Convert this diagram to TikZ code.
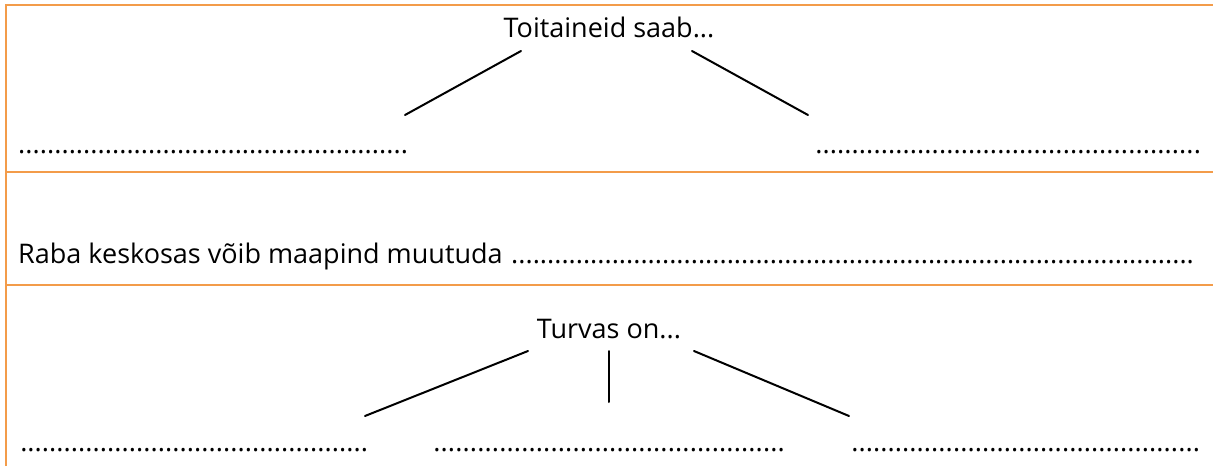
\documentclass[tikz,border=0pt]{standalone}
\usepackage{fontspec}
\setmainfont{Open Sans}
\usepackage{xcolor}
\usepackage{tikz}
\usetikzlibrary{positioning}
\definecolor{rim}{HTML}{F39C4A}
\newcommand{\blank}[1]{\hbox to #1{\xleaders\hbox{.}\hfill}}

\begin{document}
\begin{tikzpicture}[x=1pt,y=-1pt,font=\fontsize{27}{31}\selectfont,
  rule/.style={line width=1.6pt,rim},
  stroke/.style={line width=2pt,black,line cap=round},
  gap/.style={anchor=base west,inner sep=0pt},
  head/.style={anchor=base,inner sep=0pt}]
  \useasboundingbox (0,0) rectangle (1213,466);
  % frame
  \draw[rule] (6,466) -- (6,5) -- (1213,5);
  \draw[rule] (6,172) -- (1213,172);
  \draw[rule] (6,285) -- (1213,285);
  % first row
  \node[head] (toit) at (609,37) {Toitaineid saab...};
  \node[gap] (toitL) at (18,153) {\blank{390pt}};
  \node[gap] (toitR) at (815,153) {\blank{386pt}};
  \coordinate (toitL-top) at (521,51);
  \coordinate (toitL-end) at (405,115);
  \coordinate (toitR-top) at (692,51);
  \coordinate (toitR-end) at (808,115);
  % second row
  \node[gap] (raba) at (18,263) {Raba keskosas võib maapind muutuda};
  \node[gap] (rabaD) at (511,263) {\blank{683pt}};
  % third row
  \node[head] (turvas) at (609,338) {Turvas on...};
  \node[gap] (turvasL) at (20,451) {\blank{348pt}};
  \node[gap] (turvasM) at (433,451) {\blank{352pt}};
  \node[gap] (turvasR) at (851,451) {\blank{349pt}};
  \coordinate (turvasL-top) at (528,351);
  \coordinate (turvasL-end) at (365,416);
  \coordinate (turvasM-top) at (609,351);
  \coordinate (turvasM-end) at (609,402);
  \coordinate (turvasR-top) at (694,351);
  \coordinate (turvasR-end) at (849,416);
  \foreach \a in {toitL,toitR,turvasL,turvasM,turvasR}
     {\draw[stroke] (\a-top) -- (\a-end);}
\end{tikzpicture}
\end{document}
